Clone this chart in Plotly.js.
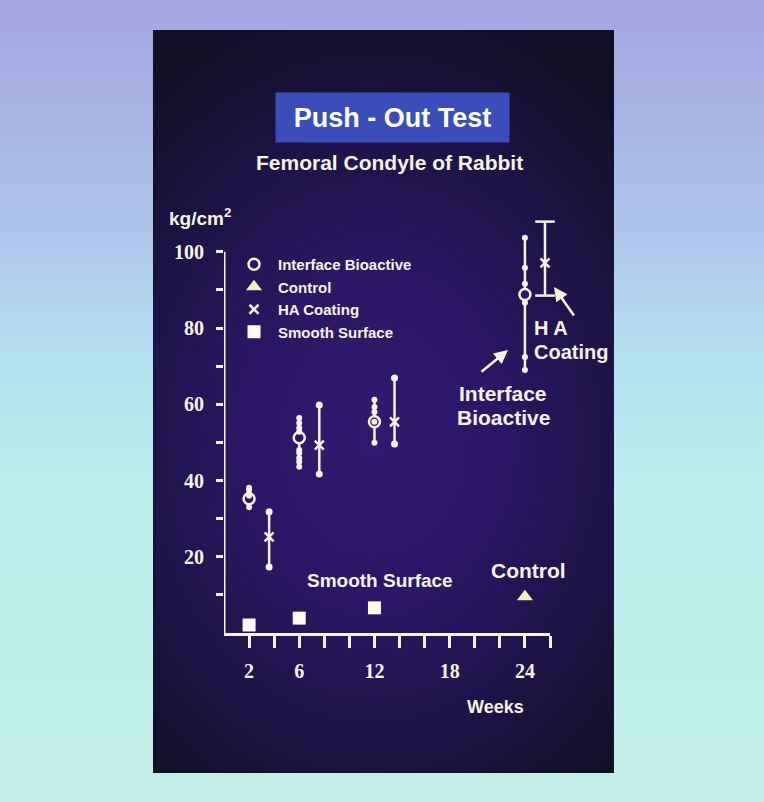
<!DOCTYPE html>
<html>
<head>
<meta charset="utf-8">
<script src="https://cdn.plot.ly/plotly-3.0.1.min.js"></script>
<style>
  html, body { margin: 0; padding: 0; width: 764px; height: 802px; overflow: hidden; }
  body {
    position: relative;
    background: linear-gradient(to bottom, #a5a5e0 0%, #acc4ec 28%, #b4e0f0 45%, #bdeeec 62%, #c3f0e8 100%);
  }
  #panel {
    position: absolute; left: 153px; top: 30px; width: 461px; height: 743px;
    background: radial-gradient(ellipse 80% 62% at 48% 55%, #33196f 0%, #2b1765 35%, #1c1344 68%, #0f0e22 100%);
  }
  #chart { position: absolute; left: 0; top: 0; width: 764px; height: 802px; }
</style>
</head>
<body>
<div id="panel"></div>
<div id="chart"></div>
<script>
// ---- data (kg/cm2 versus weeks after implantation) ----
const weeks = [2, 6, 12, 24];

// Interface Bioactive: individual specimens and the mean at each time point
const bioactiveSamples = [
  [38.1, 37.5, 36.4, 36.0, 33.0],
  [56.4, 55.1, 53.8, 52.8, 48.0, 47.2, 45.9, 44.9, 43.6],
  [61.2, 59.3, 58.0, 55.4, 49.9],
  [103.7, 95.8, 91.6, 86.6, 72.4, 69.0]
];
const bioactiveMean = [35.2, 51.2, 55.4, 88.8];

// HA Coating: mean with low / high ends of the range
const haMean = [25.2, 49.3, 55.4, 97.1];
const haLow  = [17.3, 41.7, 49.6, 88.5];
const haHigh = [31.8, 59.8, 66.9, 107.9];

// Smooth Surface and Control
const smoothWeeks  = [2, 6, 12];
const smoothValues = [2.1, 3.9, 6.6];
const controlWeeks  = [24];
const controlValues = [9.5];

// axis ticks
const xTickVals   = [2, 4, 6, 8, 10, 12, 14, 16, 18, 20, 22, 24, 26];
const xTickLabels = ['2', '', '6', '', '', '12', '', '', '18', '', '', '24', ''];
const yTickVals   = [10, 20, 30, 40, 50, 60, 70, 80, 90, 100];
const yTickLabels = ['', '20', '', '40', '', '60', '', '80', '', '100'];

// ---- styling / placement ----
const HA_OFFSET = 1.6;        // HA Coating drawn just right of each time point
const CAPPED_WEEK = 24;       // this range is drawn with flat caps
const INK = '#f6f3e4';
const PANEL = '#2b1765';
const TEXT_FONT = '"Liberation Sans", Arial, sans-serif';
const NUM_FONT = '"Liberation Serif", "DejaVu Serif", serif';

const PLOT = { left: 224, right: 550, top: 206, bottom: 633 };
const px = v => (v - PLOT.left) / (PLOT.right - PLOT.left);
const py = v => (PLOT.bottom - v) / (PLOT.bottom - PLOT.top);

// ---- traces ----
const rangeX = [], rangeY = [];
weeks.forEach((w, i) => {
  rangeX.push(w, w, null);
  rangeY.push(Math.min(...bioactiveSamples[i]), Math.max(...bioactiveSamples[i]), null);
});
const sampleX = [], sampleY = [];
weeks.forEach((w, i) => bioactiveSamples[i].forEach(v => { sampleX.push(w); sampleY.push(v); }));

const haX = weeks.map(w => w + HA_OFFSET);
const dotX = [], dotY = [], capX = [], capY = [];
weeks.forEach((w, i) => {
  const tx = w === CAPPED_WEEK ? capX : dotX;
  const ty = w === CAPPED_WEEK ? capY : dotY;
  tx.push(haX[i], haX[i]);
  ty.push(haLow[i], haHigh[i]);
});

const traces = [
  { x: rangeX, y: rangeY, mode: 'lines', line: { color: INK, width: 2.5 },
    showlegend: false, hoverinfo: 'skip', cliponaxis: false },
  { x: weeks, y: bioactiveMean, mode: 'markers', name: 'Interface Bioactive',
    marker: { symbol: 'circle', size: 11, color: PANEL, line: { color: INK, width: 2.5 } },
    cliponaxis: false },
  { x: sampleX, y: sampleY, mode: 'markers', showlegend: false,
    marker: { symbol: 'circle', size: 6, color: INK }, cliponaxis: false },
  { x: controlWeeks, y: controlValues, mode: 'markers', name: 'Control',
    marker: { symbol: 'triangle-up', size: 14, color: '#efefc2' }, cliponaxis: false },
  { x: haX, y: haMean, mode: 'markers', name: 'HA Coating',
    marker: { symbol: 'x-thin-open', size: 9, color: INK, line: { color: INK, width: 2.5 } },
    error_y: { type: 'data', symmetric: false,
      array: haHigh.map((h, i) => h - haMean[i]),
      arrayminus: haLow.map((l, i) => haMean[i] - l),
      width: 0, thickness: 2.5, color: INK },
    cliponaxis: false },
  { x: dotX, y: dotY, mode: 'markers', showlegend: false,
    marker: { symbol: 'circle', size: 7, color: INK }, cliponaxis: false },
  { x: capX, y: capY, mode: 'markers', showlegend: false,
    marker: { symbol: 'line-ew-open', size: 14, color: INK, line: { color: INK, width: 2.5 } },
    cliponaxis: false },
  { x: smoothWeeks, y: smoothValues, mode: 'markers', name: 'Smooth Surface',
    marker: { symbol: 'square', size: 13, color: '#fbfbf6' }, cliponaxis: false }
];

const txt = (text, x, y, size, extra) => Object.assign({
  text, x: px(x), y: py(y), xref: 'paper', yref: 'paper', showarrow: false,
  xanchor: 'center', yanchor: 'middle',
  font: { family: TEXT_FONT, size, color: INK, weight: 700 }
}, extra || {});

const arrow = (x, y, ax, ay) => ({
  text: '', x: px(x), y: py(y), xref: 'paper', yref: 'paper',
  showarrow: true, ax, ay, arrowhead: 2, arrowsize: 1.1, arrowwidth: 2.5,
  arrowcolor: INK, standoff: 0
});

const layout = {
  width: 764, height: 802,
  margin: { l: PLOT.left, r: 764 - PLOT.right, t: PLOT.top, b: 802 - PLOT.bottom, pad: 0 },
  paper_bgcolor: 'rgba(0,0,0,0)', plot_bgcolor: 'rgba(0,0,0,0)',
  showlegend: true,
  legend: {
    x: px(230), y: py(248), xanchor: 'left', yanchor: 'top',
    bgcolor: 'rgba(0,0,0,0)', borderwidth: 0, itemwidth: 38,
    font: { family: TEXT_FONT, size: 15, color: INK, weight: 700 }
  },
  xaxis: {
    range: [0, 26], showgrid: false, zeroline: false,
    showline: true, linecolor: INK, linewidth: 3,
    ticks: 'outside', ticklen: 12, tickwidth: 3, tickcolor: INK,
    tickvals: xTickVals, ticktext: xTickLabels, ticklabelstandoff: 6,
    tickfont: { family: NUM_FONT, size: 20, color: INK, weight: 700 }
  },
  yaxis: {
    range: [0, 112], showgrid: false, zeroline: false, showline: false,
    ticks: 'outside', ticklen: 7, tickwidth: 3, tickcolor: INK,
    tickvals: yTickVals, ticktext: yTickLabels, ticklabelstandoff: 8,
    tickfont: { family: NUM_FONT, size: 20, color: INK, weight: 700 }
  },
  shapes: [
    { type: 'line', xref: 'x', yref: 'y', x0: 0, x1: 0, y0: 0, y1: 100,
      line: { color: INK, width: 3 } }
  ],
  annotations: [
    txt('Push - Out Test', 392.5, 117.5, 27,
        { bgcolor: '#3b4db8', width: 233, height: 49, borderpad: 0,
          font: { family: TEXT_FONT, size: 27, color: '#ffffff', weight: 700 } }),
    txt('Femoral Condyle of Rabbit', 389, 162, 21),
    txt('kg/cm<sup>2</sup>', 167, 217, 19, { xanchor: 'left' }),
    txt('Weeks', 495, 707, 18),
    txt('Smooth Surface', 380, 580, 19),
    txt('Control', 528, 570, 21),
    txt('H A', 532, 328, 20, { xanchor: 'left' }),
    txt('Coating', 532, 352, 20, { xanchor: 'left' }),
    txt('Interface', 503, 393, 21),
    txt('Bioactive', 503, 417, 21),
    arrow(508, 350, -28, 23),
    arrow(554, 287, 21, 30)
  ]
};

Plotly.newPlot('chart', traces, layout, { displayModeBar: false, staticPlot: true });
</script>
</body>
</html>
